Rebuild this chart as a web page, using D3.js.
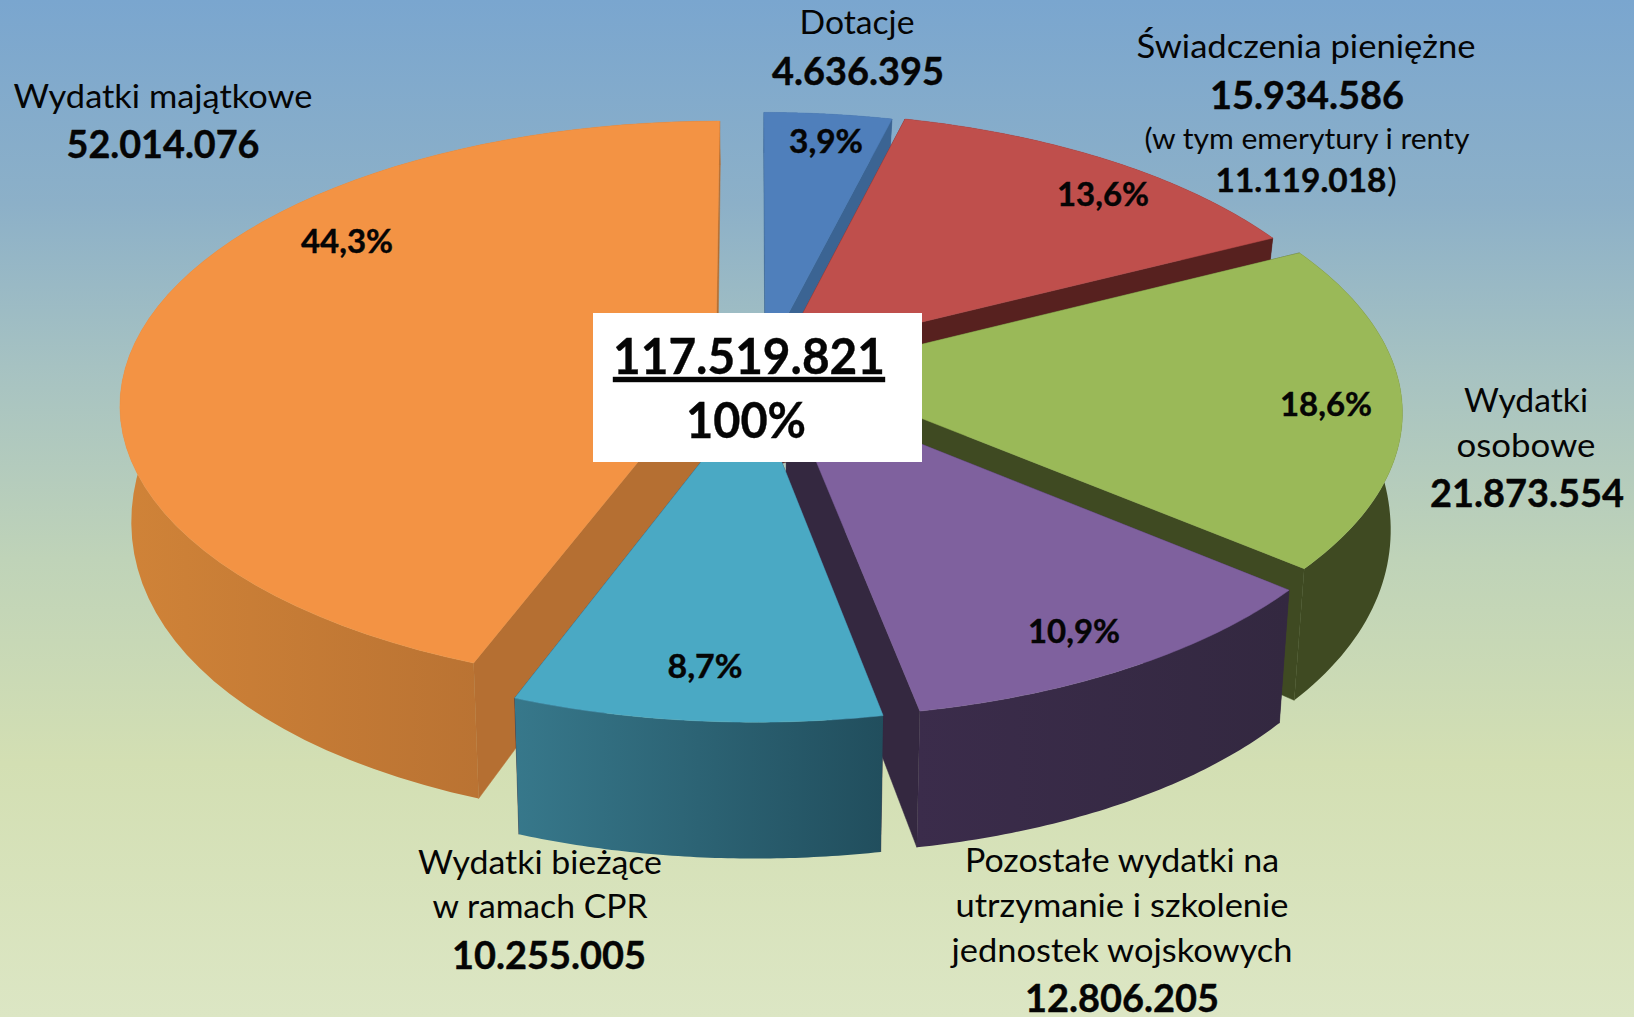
<!DOCTYPE html>
<html>
<head>
<meta charset="utf-8">
<script src="https://cdn.jsdelivr.net/npm/d3@7"></script>
<style>
  html, body { margin: 0; padding: 0; background: #dce6c4; }
  svg { display: block; }
  text { font-family: Lato, "Noto Sans", sans-serif; fill: #050505; }
</style>
</head>
<body>
<div id="chart"></div>
<script>
// Values, slices go clockwise from 12 o'clock.
const categories = ['Dotacje', 'Świadczenia pieniężne', 'Wydatki osobowe', 'Pozostałe wydatki na utrzymanie i szkolenie jednostek wojskowych', 'Wydatki bieżące w ramach CPR', 'Wydatki majątkowe'];
const values = [4636395, 15934586, 21873554, 12806205, 10255005, 52014076];
const pensionsValue = 11119018;
const totalValue = 117519821;
const totalShare = '100%';

const width = 1634, height = 1017;

const num = d3.formatLocale({decimal: ',', thousands: '.', grouping: [3], currency: ['', '']}).format(',d');
const pct = v => (v / totalValue * 100).toFixed(1).replace('.', ',') + '%';

// Look of each slice, same order as the values.
const topColors = ['#4f7fbb', '#bf4f4c', '#9ab958', '#7f619e', '#4aa9c4', '#f39344'];
const cutColors = ['#3b6493', '#57211f', '#3f4a22', '#342840', '#342840', '#b56f32'];
const wallLeft = ['#3b6493', '#57211f', '#3f4a22', '#3b2c4b', '#37788b', '#d08338'];
const wallRight = ['#3b6493', '#57211f', '#3f4a22', '#332840', '#214e5d', '#ab682f'];
// How far each slice is pulled out of the pie, across and along the view.
const pullAcross = [0.025, 0.05, 0.091, 0.06, 0.006, -0.06];
const pullAlong = [-0.04, -0.04, 0.02, 0.084, 0.096, 0];

// Pie plane -> screen, near side is drawn bigger.
const cx = 751, cy = 367, R = 590, tilt = 0.471, persp = 0.13, narrow = 0.018;
const wallDepth = v => 110 + 46 * v - 20 * v * v;
function project(u, v, h) {
    const s = 1 / (1 - persp * v);
    return [
        cx + R * u * s * (1 - narrow * h),
        cy + R * tilt * v * s + h * wallDepth(v)
    ];
}

const svg = d3.select('#chart').append('svg')
    .attr('width', width)
    .attr('height', height)
    .attr('viewBox', `0 0 ${width} ${height}`);
const defs = svg.append('defs');

// Background.
const bg = defs.append('linearGradient').attr('id', 'bg').attr('x1', 0).attr('y1', 0).attr('x2', 0).attr('y2', 1);
[[0, '#7aa6cf'], [0.2, '#8cb0c8'], [0.36, '#a6c2c2'], [0.55, '#bfd3b8'], [0.75, '#d3dfb3'], [1, '#dce6c4']]
    .forEach(d => bg.append('stop').attr('offset', d[0]).attr('stop-color', d[1]));
svg.append('rect').attr('width', width).attr('height', height).attr('fill', 'url(#bg)');

const line = d3.line();
const slices = d3.pie().sort(null).value(d => d)(values).map((d, i) => ({...d, i, mid: (d.startAngle + d.endAngle) / 2}));

// Draw from the far slice to the near one.
const order = slices.slice().sort((a, b) => Math.sin(a.mid - Math.PI / 2) - Math.sin(b.mid - Math.PI / 2));

order.forEach(d => {
    const ex = pullAcross[d.i], ey = pullAlong[d.i];
    const rim = h => d3.range(0, 61).map(t => {
        const a = d.startAngle + (d.endAngle - d.startAngle) * t / 60;
        return project(ex + Math.sin(a), ey - Math.cos(a), h);
    });
    const apex = h => project(ex, ey, h);
    const g = svg.append('g').attr('class', 'slice');

    // Cut faces.
    const topRim = rim(0), botRim = rim(1);
    [[topRim[0], botRim[0]], [topRim[60], botRim[60]]].forEach(p => {
        const face = [apex(0), p[0], p[1], apex(1)];
        g.append('path').attr('d', line(face) + 'Z')
            .attr('fill', cutColors[d.i]).attr('stroke', cutColors[d.i]).attr('stroke-width', 0.5);
    });

    // Outer wall, horizontal shading.
    const wall = topRim.concat(botRim.slice().reverse());
    const xs = d3.extent(wall, p => p[0]);
    const grad = defs.append('linearGradient').attr('id', `wall${d.i}`)
        .attr('gradientUnits', 'userSpaceOnUse')
        .attr('x1', xs[0]).attr('x2', xs[1]).attr('y1', 0).attr('y2', 0);
    grad.append('stop').attr('offset', 0).attr('stop-color', wallLeft[d.i]);
    grad.append('stop').attr('offset', 1).attr('stop-color', wallRight[d.i]);
    g.append('path').attr('d', line(wall) + 'Z').attr('fill', `url(#wall${d.i})`);

    // Top.
    g.append('path').attr('d', line([apex(0)].concat(topRim)) + 'Z')
        .attr('fill', topColors[d.i]).attr('stroke', topColors[d.i]).attr('stroke-width', 0.5);
});

// White box in the middle.
svg.append('rect').attr('x', 593).attr('y', 313).attr('width', 329).attr('height', 149).attr('fill', '#fff');

function label(txt, x, y, size, bold, w) {
    return svg.append('text')
        .attr('x', x).attr('y', y)
        .attr('text-anchor', 'middle')
        .attr('font-size', size)
        .attr('font-weight', bold ? 700 : 400)
        .attr('stroke', bold ? '#050505' : 'none')
        .attr('stroke-width', bold ? 0.4 : 0)
        .attr('textLength', w)
        .attr('lengthAdjust', 'spacingAndGlyphs')
        .text(txt);
}

// Category captions.
label('Dotacje', 857, 34, 33, false, 115);
label(num(values[0]), 858, 85, 38, true, 172);

label('Świadczenia pieniężne', 1306, 58, 33, false, 339);
label(num(values[1]), 1307, 109, 38, true, 194);
label('(w tym emerytury i renty', 1307, 149, 29, false, 325);
label(num(pensionsValue), 1301, 192, 33, true, 171);
label(')', 1392, 192, 33, false, 10);

label('Wydatki', 1526, 412, 33, false, 124);
label('osobowe', 1526, 457, 33, false, 139);
label(num(values[2]), 1527, 507, 38, true, 194);

label('Pozostałe wydatki na', 1122, 872, 33, false, 314);
label('utrzymanie i szkolenie', 1122, 917, 33, false, 333);
label('jednostek wojskowych', 1122, 962, 33, false, 341);
label(num(values[3]), 1122, 1012, 38, true, 194);

label('Wydatki bieżące', 540, 874, 33, false, 244);
label('w ramach CPR', 540, 918, 33, false, 215);
label(num(values[4]), 549, 969, 38, true, 194);

label('Wydatki majątkowe', 163, 108, 33, false, 299);
label(num(values[5]), 163, 158, 38, true, 193);

// Percent labels on the slices.
[[826, 153, 74], [1103, 206, 92], [1326, 416, 92], [1074, 643, 92], [705, 678, 75], [347, 253, 92]]
    .forEach((p, i) => label(pct(values[i]), p[0], p[1], 32, true, p[2]));

// Total in the box.
label(num(totalValue), 749, 374, 50, true, 272).style('text-decoration', 'underline');
label(totalShare, 746, 438, 50, true, 120);
</script>
</body>
</html>
